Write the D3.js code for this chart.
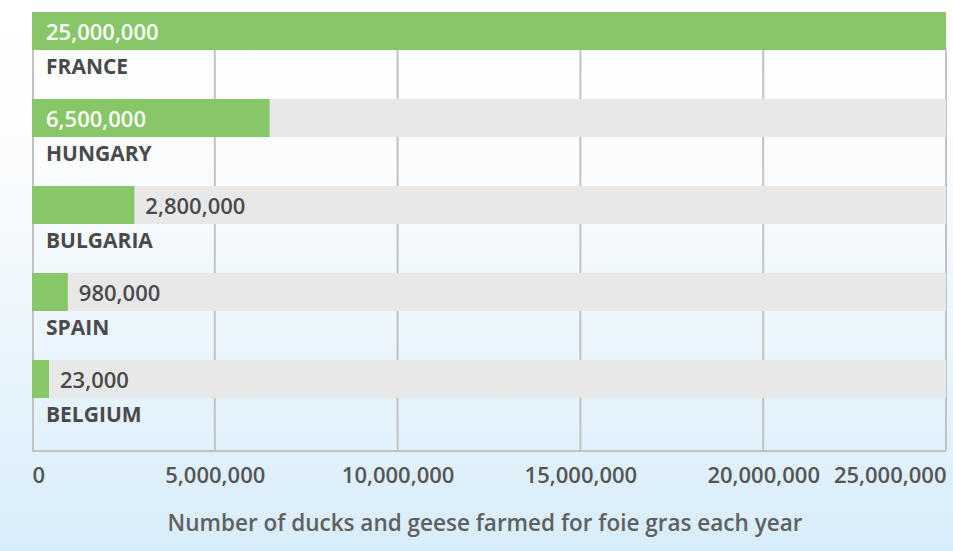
<!DOCTYPE html>
<html>
<head>
<meta charset="utf-8">
<script src="https://cdn.jsdelivr.net/npm/d3@7"></script>
<style>
  body { margin: 0; overflow: hidden; }
  svg { display: block; font-family: "Open Sans", sans-serif; }
</style>
</head>
<body>
<div id="chart"></div>
<script>
// data
var countries = ["FRANCE", "HUNGARY", "BULGARIA", "SPAIN", "BELGIUM"];
var birds = [25000000, 6500000, 2800000, 980000, 23000];
var tickValues = [0, 5000000, 10000000, 15000000, 20000000, 25000000];
var axisTitle = "Number of ducks and geese farmed for foie gras each year";

var w = 953, h = 551;
var left = 32, right = 946;
var rowTop = 12, rowStep = 87, barH = 38;
var gridTop = 50, gridBottom = 451;
var minBar = 17;

var green = "#88c767";
var track = "#e8e8e8";
var textGrey = "#555555";

var svg = d3.select("#chart")
  .append("svg")
  .attr("width", w)
  .attr("height", h);

// background: white fading into light blue
var grad = svg.append("defs").append("linearGradient")
  .attr("id", "bg")
  .attr("x1", 0).attr("y1", 0).attr("x2", 0).attr("y2", 1);
grad.append("stop").attr("offset", "0").attr("stop-color", "#ffffff");
grad.append("stop").attr("offset", "0.3").attr("stop-color", "#fafcfe");
grad.append("stop").attr("offset", "1").attr("stop-color", "#d8edfa");

svg.append("rect")
  .attr("width", w)
  .attr("height", h)
  .attr("fill", "url(#bg)");

// scales
var x = d3.scaleLinear()
  .domain([0, 25000000])
  .range([left, right]);

var y = d3.scaleBand()
  .domain(countries)
  .range([rowTop, rowTop + rowStep * countries.length]);

var fmt = d3.format(",");

// grid lines
svg.append("g")
  .selectAll("line")
  .data(tickValues.slice(1))
  .enter()
  .append("line")
  .attr("x1", function(d) { return x(d); })
  .attr("x2", function(d) { return x(d); })
  .attr("y1", gridTop)
  .attr("y2", gridBottom)
  .attr("stroke", "#c2c2c2")
  .attr("stroke-width", 2);

// left and bottom border
svg.append("path")
  .attr("d", "M" + (left + 1) + "," + gridTop + "V" + gridBottom + "H" + right)
  .attr("fill", "none")
  .attr("stroke", "#c2c2c2")
  .attr("stroke-width", 2);

var rows = svg.selectAll(".row")
  .data(countries)
  .enter()
  .append("g")
  .attr("class", "row")
  .attr("transform", function(d) { return "translate(0," + y(d) + ")"; });

// grey track behind each bar
rows.append("rect")
  .attr("x", x(0))
  .attr("y", 0)
  .attr("width", x(25000000) - x(0))
  .attr("height", barH)
  .attr("fill", track);

// value bars
var barW = function(i) { return Math.max(minBar, x(birds[i]) - x(0)); };

rows.append("rect")
  .attr("x", x(0))
  .attr("y", 0)
  .attr("width", function(d, i) { return barW(i); })
  .attr("height", barH)
  .attr("fill", green);

// value labels: inside (white) when they fit, otherwise after the bar
rows.append("text")
  .attr("x", function(d, i) { return barW(i) > 200 ? x(0) + 14 : x(0) + barW(i) + 11; })
  .attr("y", 28)
  .attr("fill", function(d, i) { return barW(i) > 200 ? "#ffffff" : "#4a4a4a"; })
  .style("font-size", "22px")
  .style("font-weight", 600)
  .text(function(d, i) { return fmt(birds[i]); });

// country labels
rows.append("text")
  .attr("x", x(0) + 14)
  .attr("y", barH + 24)
  .attr("fill", "#4a4a4a")
  .style("font-size", "21px")
  .style("font-weight", 700)
  .text(function(d) { return d; });

// x axis labels
var xAxis = d3.axisBottom(x)
  .tickValues(tickValues)
  .tickFormat(fmt)
  .tickSize(0)
  .tickPadding(0);

var axis = svg.append("g")
  .attr("transform", "translate(0," + gridBottom + ")")
  .call(xAxis);

axis.select(".domain").remove();
axis.selectAll("text")
  .attr("y", 32)
  .attr("dy", 0)
  .attr("fill", textGrey)
  .style("font-family", "'Open Sans', sans-serif")
  .style("font-size", "22px")
  .style("font-weight", 600)
  .attr("text-anchor", function(d) {
    if (d === 0) return "start";
    if (d === 25000000) return "end";
    return "middle";
  });

// axis title
svg.append("text")
  .attr("x", 485)
  .attr("y", 531)
  .attr("text-anchor", "middle")
  .attr("fill", "#606060")
  .style("font-size", "22.5px")
  .style("font-weight", 600)
  .text(axisTitle);
</script>
</body>
</html>
